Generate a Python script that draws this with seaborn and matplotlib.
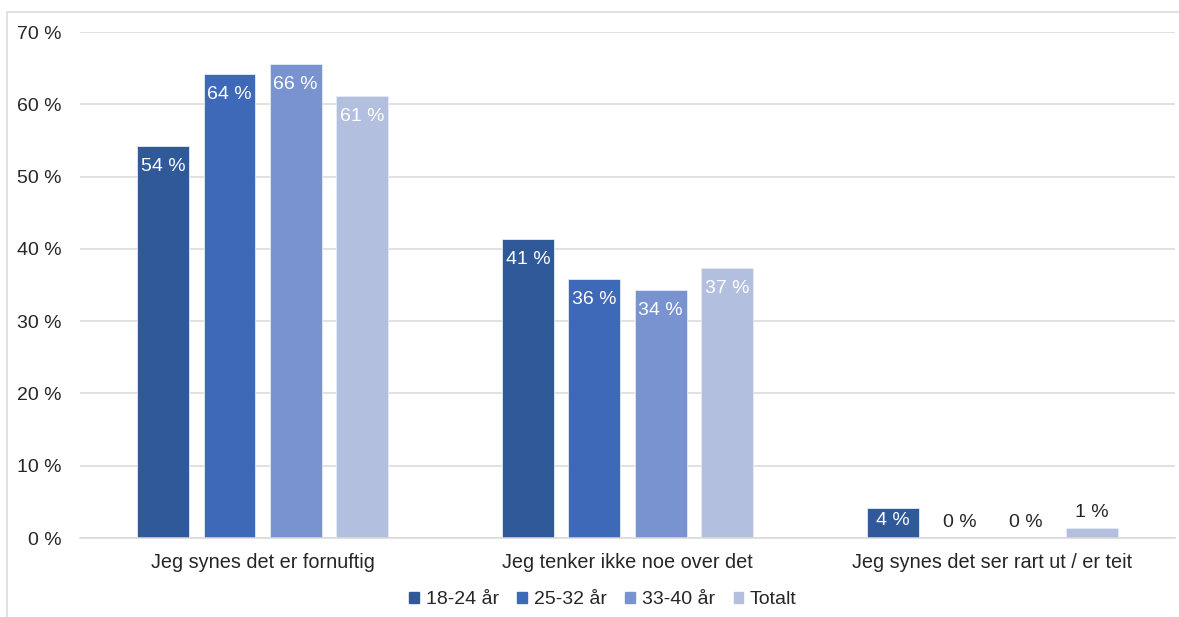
import matplotlib
matplotlib.use("Agg")
import matplotlib.pyplot as plt
import seaborn as sns
import pandas as pd
from matplotlib.patches import Rectangle

categories = ["Jeg synes det er fornuftig", "Jeg tenker ikke noe over det",
              "Jeg synes det ser rart ut / er teit"]
series = ["18-24 år", "25-32 år", "33-40 år", "Totalt"]
values = {
    "18-24 år": [54.2, 41.4, 4.2],
    "25-32 år": [64.2, 35.8, 0.0],
    "33-40 år": [65.6, 34.3, 0.0],
    "Totalt":   [61.1, 37.3, 1.4],
}
labels = {
    "18-24 år": ["54 %", "41 %", "4 %"],
    "25-32 år": ["64 %", "36 %", "0 %"],
    "33-40 år": ["66 %", "34 %", "0 %"],
    "Totalt":   ["61 %", "37 %", "1 %"],
}
yticks = [0, 10, 20, 30, 40, 50, 60, 70]
ytick_labels = ["0 %", "10 %", "20 %", "30 %", "40 %", "50 %", "60 %", "70 %"]
colors = ["#30599A", "#3D69B8", "#7893CF", "#B3BFDF"]

rows = []
for s in series:
    for c, v in zip(categories, values[s]):
        rows.append({"cat": c, "series": s, "val": v})
df = pd.DataFrame(rows)

sns.set_theme(style="white")
plt.rcParams["font.family"] = ["Liberation Sans", "DejaVu Sans"]

fig = plt.figure(figsize=(11.79, 6.17), dpi=100)
ax = fig.add_axes([0.0679, 0.128, 0.9287, 0.8201])

sns.barplot(data=df, x="cat", y="val", hue="series", order=categories,
            hue_order=series, palette=colors, width=0.727, gap=0.22,
            saturation=1, ax=ax, legend=False, errorbar=None,
            linewidth=0.6, edgecolor="#E6EBF5")

ax.set_ylim(0, 70)
ax.set_yticks(yticks)
ax.set_yticklabels(ytick_labels, fontsize=14, color="#262626")
ax.tick_params(axis="y", length=0, pad=13)
ax.tick_params(axis="x", length=0, pad=11, labelsize=14.3, labelcolor="#262626")
ax.set_xlabel("")
ax.set_ylabel("")
ax.yaxis.grid(True, color="#D9D9D9", linewidth=1.1)
ax.set_axisbelow(True)
for side in ["left", "right", "top"]:
    ax.spines[side].set_visible(False)
ax.spines["bottom"].set_color("#D9D9D9")
ax.spines["bottom"].set_linewidth(1.1)

for s, cont in zip(series, ax.containers):
    for bar, lab, v in zip(cont, labels[s], values[s]):
        x = bar.get_x() + bar.get_width() / 2
        h = bar.get_height()
        if h >= 10:
            ax.annotate(lab, (x, h), xytext=(0, -12), textcoords="offset pixels",
                        ha="center", va="top", color="white", fontsize=14)
        elif h >= 3:
            ax.annotate(lab, (x, h / 2), xytext=(0, 2), textcoords="offset pixels",
                        ha="center", va="center", color="white", fontsize=14)
        else:
            ax.annotate(lab, (x, h), xytext=(0, 7), textcoords="offset pixels",
                        ha="center", va="bottom", color="#262626", fontsize=14)

handles = [Rectangle((0, 0), 1, 1, color=c) for c in colors]
fig.legend(handles, series, loc="center", bbox_to_anchor=(0.5115, 0.028),
           ncol=4, frameon=False, fontsize=14, handlelength=0.5,
           handleheight=0.5, handletextpad=0.35, columnspacing=0.95,
           labelcolor="#262626")

fig.patches.append(Rectangle((7 / 1179, -0.02), 1.1, 1 - 12 / 617 + 0.02,
                             transform=fig.transFigure, fill=False,
                             edgecolor="#D9D9D9", linewidth=1.1))

fig.savefig("out.png", dpi=100)
